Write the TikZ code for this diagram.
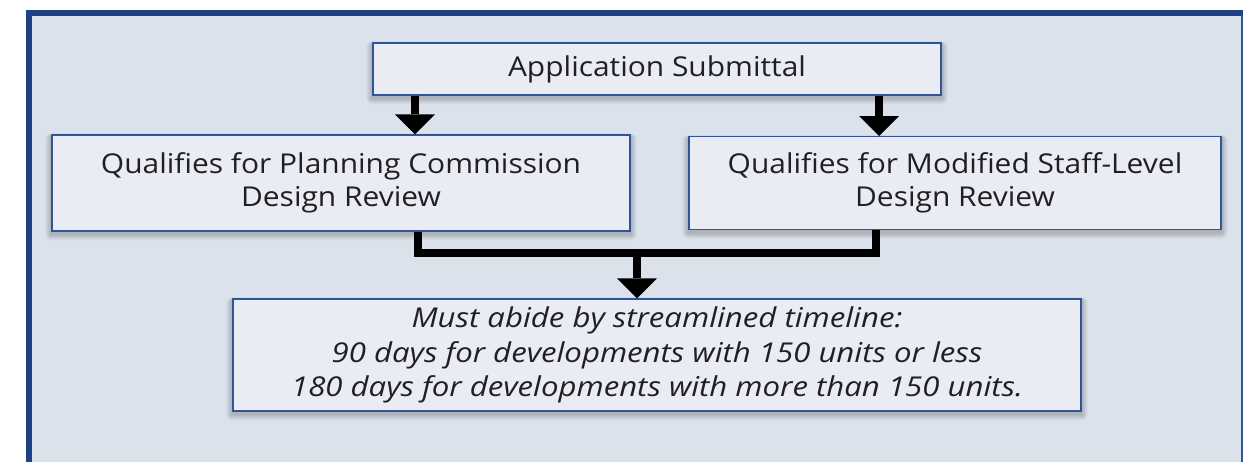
\documentclass[tikz,border=0pt]{standalone}
\usepackage{fontspec}
\setmainfont{Open Sans}
\newfontfamily\regfont{Open Sans}[FakeStretch=1.095]
\newfontfamily\notefont{Open Sans}[FakeStretch=1.14]
\usetikzlibrary{arrows.meta,calc}
\definecolor{bgc}{HTML}{DCE2EC}
\definecolor{framec}{HTML}{1F4287}
\definecolor{boxfill}{HTML}{E9ECF4}
\definecolor{boxline}{HTML}{2F5597}
\definecolor{txt}{HTML}{231F20}
\pgfdeclarelayer{back}
\pgfdeclarelayer{shad}
\pgfsetlayers{back,shad,main}
\newcommand\boxshadow[1]{%
  \begin{pgfonlayer}{shad}
    \foreach \i in {1,...,6}{%
      \fill[black,opacity=0.035,rounded corners=\i*0.75pt]
        ([shift={(-\i,2.5-\i*0.6)}]#1.north west) rectangle ([shift={(\i,2.5+\i)}]#1.south east);}
  \end{pgfonlayer}}
\begin{document}
\begin{tikzpicture}[x=0.75pt,y=-0.75pt,
  box/.style={draw=boxline, line width=1.1pt, fill=boxfill, inner sep=0pt, align=center,
    text=txt, font=\regfont\fontsize{20.5}{25}\selectfont},
  notebox/.style={box, font=\notefont\fontsize{20.5}{25.9}\selectfont\itshape},
  flow/.style={line width=6pt, black, -{Triangle[width=30pt,length=15pt,line width=0pt]}},
  bar/.style={line width=6pt, black, line join=miter}]
\useasboundingbox (0,0) rectangle (1243,462);
\begin{pgfonlayer}{back}
  \fill[bgc] (26,10) rectangle (1243,462);
  \fill[framec] (26,10) rectangle (1243,16);
  \fill[framec] (26,10) rectangle (32,462);
  \draw[boxline, line width=1.2pt] (1241.8,16) -- (1241.8,462);
\end{pgfonlayer}
\node[box, minimum width=426pt, minimum height=39pt] (top) at (657,69) {Application Submittal};
\node[box, minimum width=433.5pt, minimum height=72pt] (left) at (341,183) {Qualifies for Planning Commission\\Design Review};
\node[box, minimum width=399pt, minimum height=69.4pt] (right) at (955,183) {Qualifies for Modified Staff-Level\\Design Review};
\node[notebox, minimum width=636pt, minimum height=84pt] (bottom) at (657,355) {Must abide by streamlined timeline:\\90 days for developments with 150 units or less\\180 days for developments with more than 150 units.};
\boxshadow{top}
\boxshadow{left}
\boxshadow{right}
\boxshadow{bottom}
\coordinate (aL) at (415,0);
\coordinate (aR) at (879,0);
\coordinate (jL) at (417.5,252.5);
\coordinate (jR) at (876,252.5);
\coordinate (jM) at (637,252.5);
\draw[flow] (top.south -| aL) -- (left.north -| aL);
\draw[flow] (top.south -| aR) -- (right.north -| aR);
\draw[bar] (left.south -| jL) -- (jL) -- (jR) -- (right.south -| jR);
\draw[flow] (jM) -- (bottom.north -| jM);
\end{tikzpicture}
\end{document}
